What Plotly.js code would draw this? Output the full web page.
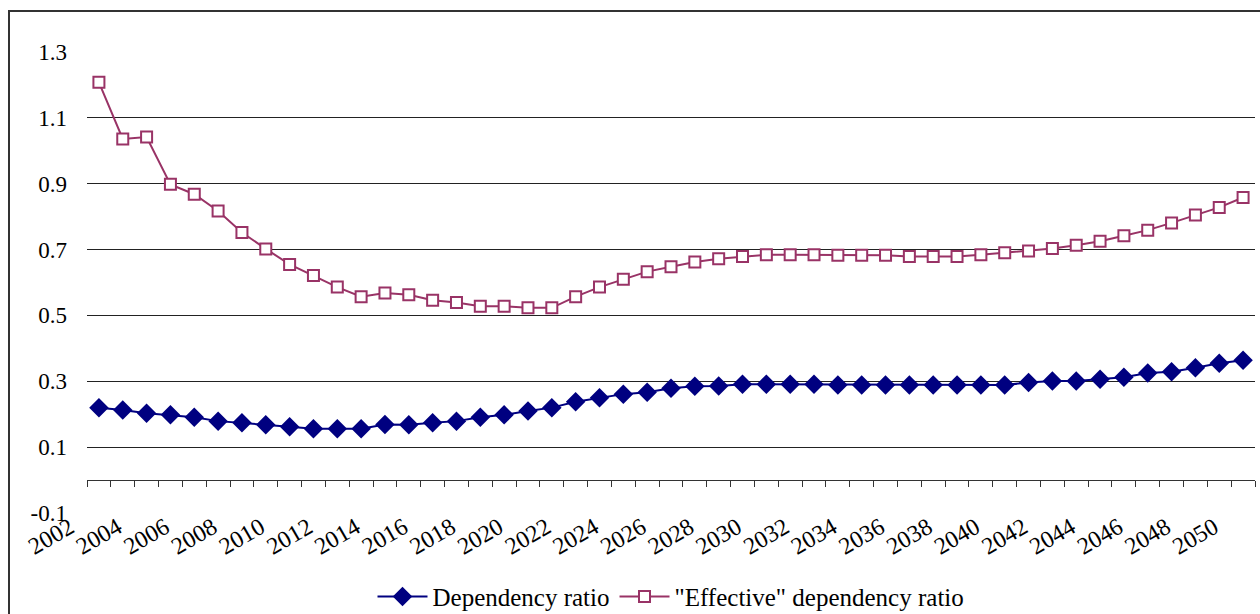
<!DOCTYPE html>
<html>
<head>
<meta charset="utf-8">
<script src="https://cdn.plot.ly/plotly-3.0.1.min.js"></script>
<style>
  html, body { margin: 0; padding: 0; background: #fff; overflow: hidden; }
  #wrap { position: relative; width: 1260px; height: 614px; }
  #chart { width: 1260px; height: 614px; }
  #frame { position: absolute; left: 8px; top: 10px; width: 1300px; height: 700px;
           border: 2px solid #333; pointer-events: none; box-sizing: border-box; }
</style>
</head>
<body>
<div id="wrap">
  <div id="chart"></div>
  <div id="frame"></div>
</div>
<script>
// ---- data ----
const years = [2002,2003,2004,2005,2006,2007,2008,2009,2010,2011,2012,2013,2014,2015,2016,2017,2018,2019,2020,2021,2022,2023,2024,2025,2026,2027,2028,2029,2030,2031,2032,2033,2034,2035,2036,2037,2038,2039,2040,2041,2042,2043,2044,2045,2046,2047,2048,2049,2050];
const dependencyRatio = [0.220,0.213,0.203,0.198,0.191,0.179,0.174,0.168,0.162,0.156,0.156,0.156,0.169,0.168,
  0.174,0.179,0.191,0.198,0.210,0.220,0.238,0.250,0.261,0.267,0.279,0.285,0.286,0.291,0.291,0.291,0.291,
  0.289,0.289,0.289,0.289,0.289,0.289,0.289,0.289,0.296,0.301,0.301,0.306,0.312,0.325,0.329,0.341,0.355,0.364];
const effectiveRatio = [1.208,1.036,1.042,0.898,0.868,0.817,0.752,0.702,0.655,0.621,0.586,0.557,0.568,0.563,
  0.546,0.539,0.528,0.528,0.523,0.523,0.557,0.586,0.610,0.633,0.648,0.662,0.672,0.679,0.684,0.684,0.684,
  0.683,0.683,0.683,0.679,0.679,0.679,0.684,0.690,0.696,0.703,0.713,0.725,0.742,0.759,0.781,0.805,0.828,0.858];
const seriesNames = ["Dependency ratio", "\"Effective\" dependency ratio"];
const yTickVals = [-0.1,0.1,0.3,0.5,0.7,0.9,1.1,1.3];
const yGridVals = [0.1,0.3,0.5,0.7,0.9,1.1];
const xLabelYears = years.filter(y => y % 2 === 0);

// ---- derived ----
const yMin = -0.1, yMax = 1.3;
const xMin = years[0] - 0.5, xMax = years[years.length - 1] + 0.5;
const boundaries = [];
for (let b = xMin; b <= xMax + 1e-9; b += 1) boundaries.push(b);
const xAxisPos = (0 - yMin) / (yMax - yMin);

const font = "Liberation Serif";

const traces = [
  {
    x: years, y: dependencyRatio, name: seriesNames[0], type: "scatter", mode: "lines+markers",
    line: { color: "#000080", width: 2 },
    marker: { symbol: "diamond", size: 15, color: "#000080", line: { width: 0 } },
    yaxis: "y2"
  },
  {
    x: years, y: effectiveRatio, name: seriesNames[1], type: "scatter", mode: "lines+markers",
    line: { color: "#993366", width: 2 },
    marker: { symbol: "square", size: 11, color: "#ffffff", line: { color: "#993366", width: 2 } },
    yaxis: "y"
  }
];

const layout = {
  width: 1260, height: 614,
  margin: { l: 87, r: 5, t: 52, b: 101, autoexpand: false },
  paper_bgcolor: "rgba(0,0,0,0)", plot_bgcolor: "rgba(0,0,0,0)",
  font: { family: font, size: 23, color: "#000" },
  showlegend: true,
  legend: {
    orientation: "h", x: 0.5, xanchor: "center", yref: "container", y: 0.028, yanchor: "middle",
    itemwidth: 50,
    font: { family: font, size: 25, color: "#000" }, bgcolor: "rgba(0,0,0,0)"
  },
  xaxis: {
    type: "linear", range: [xMin, xMax], automargin: false,
    anchor: "free", position: xAxisPos,
    showgrid: false, zeroline: false,
    showline: true, linecolor: "#333", linewidth: 1,
    tickmode: "array", tickvals: xLabelYears, ticktext: xLabelYears.map(String),
    ticks: "", tickangle: -30, ticklabelstandoff: 23, ticklabelshift: -29,
    tickfont: { family: font, size: 24, color: "#000" },
    minor: { tickmode: "array", tickvals: boundaries, ticks: "outside", ticklen: 6, tickcolor: "#333", tickwidth: 1, showgrid: false }
  },
  yaxis: {
    range: [yMin, yMax], showgrid: true, gridcolor: "#222", gridwidth: 1, automargin: false,
    tickmode: "array", tickvals: yGridVals, showticklabels: false, ticks: "",
    zeroline: false, showline: false
  },
  yaxis2: {
    overlaying: "y", side: "left", range: [yMin, yMax], showgrid: false, automargin: false,
    tickmode: "array", tickvals: yTickVals, ticktext: yTickVals.map(v => v.toFixed(1)),
    ticks: "", ticklabelstandoff: 19, zeroline: false, showline: false,
    tickfont: { family: font, size: 23, color: "#000" }
  }
};

Plotly.newPlot("chart", traces, layout, { displayModeBar: false, staticPlot: true });
</script>
</body>
</html>
